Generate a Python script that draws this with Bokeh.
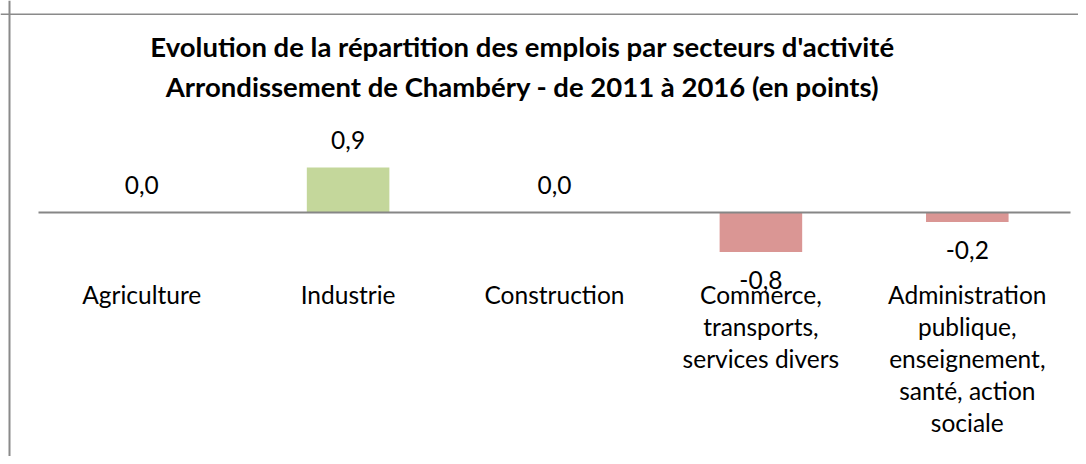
from bokeh.plotting import figure
from bokeh.models import ColumnDataSource, Span, Label
from bokeh.core.properties import value
from bokeh.embed import file_html
from bokeh.resources import INLINE

# ---- data ----
categories = ["Agriculture", "Industrie", "Construction",
              "Commerce,\ntransports,\nservices divers",
              "Administration\npublique,\nenseignement,\nsanté, action\nsociale"]
values = [0.0, 0.9, 0.0, -0.79, -0.19]
title_lines = ["Evolution de la répartition des emplois par secteurs d'activité",
               "Arrondissement de Chambéry - de 2011 à 2016 (en points)"]

GREEN = "#C4D79B"
RED = "#DA9694"
FONT = "Lato"

# ---- geometry ----
W, H = 1078, 456
X_PER = 206.4          # px per category
PLOT_LEFT = 38         # canvas px of first category slot
Y_PER = 50.0           # px per point
AXIS_Y = 212           # canvas px of zero line

x_start = -0.5 - PLOT_LEFT / X_PER
x_end = x_start + W / X_PER
y_end = AXIS_Y / Y_PER
y_start = y_end - H / Y_PER

def cx(px):
    return x_start + px / X_PER

def cy(py):
    return (AXIS_Y - py) / Y_PER

xs = list(range(len(categories)))
colors = [GREEN if v >= 0 else RED for v in values]
labels = [f"{v:.1f}".replace(".", ",") for v in values]
lab_off = [-28 if v >= 0 else 28 for v in values]

src = ColumnDataSource(dict(x=xs, top=values, color=colors, label=labels,
                            off=lab_off, cat=categories))

p = figure(width=W, height=H, output_backend="svg", toolbar_location=None,
           x_range=(x_start, x_end), y_range=(y_start, y_end),
           min_border=0, min_border_left=0, min_border_right=0,
           min_border_top=0, min_border_bottom=0,
           x_axis_location=None, y_axis_location=None, title=None)
p.outline_line_color = None
p.grid.visible = False
p.background_fill_color = "white"
p.border_fill_color = "white"

# chart border (left and top)
p.add_layout(Span(location=cx(9), dimension="height", line_color="#8a8a8a", line_width=2))
p.add_layout(Span(location=cy(13.75), dimension="width", line_color="#8a8a8a", line_width=1.5))

# bars
p.vbar(x="x", top="top", bottom=0, width=0.4, color="color", line_color=None, source=src)

# zero line
p.segment(x0=-0.5, x1=len(categories) - 0.5, y0=0, y1=0, line_color="#868686", line_width=2)

# data labels
p.text(x="x", y="top", text="label", y_offset="off", text_align="center",
       text_baseline="middle", text_font=value(FONT), text_font_size="24.5px",
       text_color="#000000", source=src)

# category labels
p.text(x="x", y=0, text="cat", y_offset=67, text_align="center", text_baseline="top",
       text_font=value(FONT), text_font_size="24.5px", text_line_height=1.105,
       text_color="#000000", source=src)

# title
for i, line in enumerate(title_lines):
    p.add_layout(Label(x=cx(522), y=cy(46 + 40 * i), text=line, text_align="center",
                       text_baseline="middle", text_font=FONT, text_font_style="bold",
                       text_font_size="27.5px", text_color="#000000"))

open("out.html", "w").write(file_html(p, INLINE))
